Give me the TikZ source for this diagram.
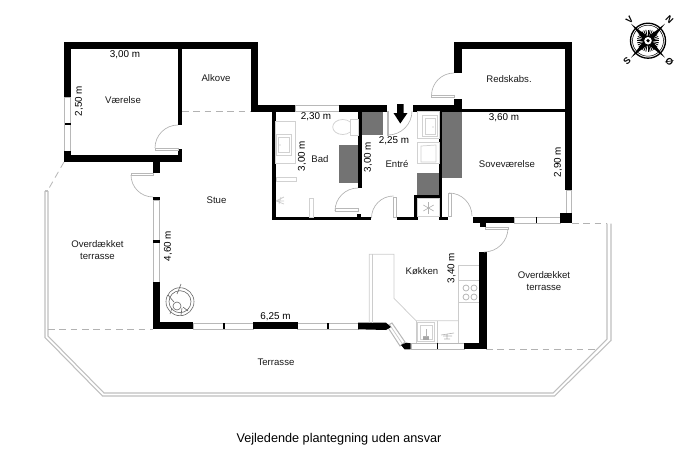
\documentclass[tikz,border=0pt]{standalone}
\usepackage{fontspec}
\setmainfont{Liberation Sans}
\tikzset{
  wall/.style={fill=black,draw=none},
  closet/.style={fill=black!55,draw=none},
  win/.style={draw=black!28,fill=white,line width=.75pt},
  thin/.style={draw=black!20,line width=.55pt},
  fix/.style={draw=black!18,line width=.55pt,fill=white},
  dashline/.style={draw=black!30,line width=.6pt,dash pattern=on 5pt off 3.5pt},
  door/.style={draw=black!30,line width=.5pt},
  leaf/.style={draw=black!28,fill=white,line width=.6pt},
  lbl/.style={font=\fontsize{7.2}{9.4}\selectfont,align=center,inner sep=0pt,text=black!90},
  dim/.style={font=\fontsize{7.4}{9}\selectfont,inner sep=0pt,text=black},
  terr/.style={draw=black!25,line width=.8pt,line join=miter},
  comp/.style={font=\bfseries\fontsize{7}{8}\selectfont,inner sep=0pt}
}
\begin{document}
\begin{tikzpicture}[x=.75pt,y=-.75pt]
\useasboundingbox (0,0) rectangle (687,457);
% terrace
\draw[terr] (45,191) -- (45,337.5) -- (102.5,396) -- (554.5,396) -- (611,340.5) -- (611,223.5);
\draw[terr] (48,191) -- (48,336) -- (104,393) -- (553,393) -- (607,339) -- (607,223.5);
\draw[terr] (45,191) -- (48,191);
\draw[dashline] (48,329) -- (153,329);
\draw[dashline] (486,349) -- (597,349);
\draw[dashline] (572,223.3) -- (607,223.3);
\draw[dashline] (64,162) -- (48,190);
\draw[dashline] (182,111) -- (251,111);
% closets
\fill[closet] (442.3,111) rectangle (461.7,178);
\fill[closet] (417.3,172.7) rectangle (439,195);
\fill[closet] (361.7,111) rectangle (383.3,135);
\fill[closet] (339,145) rectangle (358,183);
% windows
\draw[win] (64.5,97) rectangle (70.5,151);
\draw[win] (153,200) rectangle (159.5,282);
\draw[win] (193,323) rectangle (253,329);
\draw[win] (297.5,323) rectangle (358,329);
\draw[win] (295,105.5) rectangle (339,111.5);
\draw[win] (514,217) rectangle (560,223);
\draw[win] (566,190) rectangle (571.5,213);
\draw[win] (411,343) rectangle (464,349);
\draw[win] (387,326) -- (392,323) -- (405,342) -- (400,346) -- cycle;
\draw[thin] (389.5,324.5) -- (402.5,344);
% walls
\fill[wall] (64,42) rectangle (258,49.3);
\fill[wall] (64,42) rectangle (71,97);
\fill[wall] (64,151) rectangle (71,162);
\fill[wall] (64,154.7) rectangle (181.7,161.7);
\fill[wall] (178.3,49) rectangle (181.7,125);
\fill[wall] (178.3,148.5) rectangle (181.7,158);
\fill[wall] (152.7,161) rectangle (160,173);
\fill[wall] (153,197) rectangle (160,200);
\fill[wall] (64.5,122.5) rectangle (70.5,125);
\fill[wall] (153,239.5) rectangle (160,242.5);
\fill[wall] (251,42) rectangle (258,111.7);
\fill[wall] (251,105) rectangle (295,111.7);
\fill[wall] (339,105) rectangle (387,111.7);
\fill[wall] (413,105) rectangle (461.7,111.7);
\fill[wall] (461,108.7) rectangle (566,111.7);
\fill[wall] (454,42) rectangle (461.7,73);
\fill[wall] (454,42) rectangle (572.3,49.3);
\fill[wall] (454,99) rectangle (461.7,111);
\fill[wall] (565,42) rectangle (572.3,190);
\fill[wall] (560,212.7) rectangle (572.3,223.3);
\fill[wall] (535.8,217) rectangle (537.2,223);
\fill[wall] (473.3,216.7) rectangle (514,223.3);
\fill[wall] (480,220) rectangle (486,226.7);
\fill[wall] (272,111) rectangle (275.7,220);
\fill[wall] (272,216.7) rectangle (370.7,220);
\fill[wall] (358,111) rectangle (361.7,188);
\fill[wall] (357,214) rectangle (361,217);
\fill[wall] (396.7,216.7) rectangle (417.7,220);
\fill[wall] (414,195) rectangle (417.7,220);
\fill[wall] (414,195) rectangle (442.3,198);
\fill[wall] (439,111) rectangle (442.3,220);
\fill[wall] (439,216.7) rectangle (447.7,220);
\fill[wall] (479.3,252.3) rectangle (486.7,349.3);
\fill[wall] (464,342.7) rectangle (486.7,349.3);
\fill[wall] (436.7,343) rectangle (437.9,349);
\fill[wall] (401,345) -- (406,342.7) -- (410.7,343.3) -- (410.7,349.3) -- (404.5,349.3) -- cycle;
\fill[wall] (152.7,281.7) rectangle (160,329.3);
\fill[wall] (153,322.3) rectangle (193.3,329.3);
\fill[wall] (253,322.3) rectangle (297.7,329.3);
\fill[wall] (222.5,323) rectangle (224.5,329);
\fill[wall] (327,323) rectangle (329,329);
\fill[wall] (358,322.7) -- (386,322.7) -- (391,327) -- (386,330) -- (358,329.3) -- cycle;
% doors
\draw[door] (178,125) arc[start angle=270,end angle=180,radius=23];
\draw[leaf] (155,148) rectangle (178,150);
\draw[door] (131,175) arc[start angle=180,end angle=90,radius=22];
\draw[leaf] (131,173) rectangle (153,175);
\draw[door] (358,188) arc[start angle=270,end angle=180,radius=23];
\draw[leaf] (335,208.5) rectangle (358,211);
\draw[door] (371.5,218) arc[start angle=180,end angle=270,radius=22];
\draw[leaf] (393,197) rectangle (396,217);
\draw[door] (412,111) arc[start angle=0,end angle=90,radius=24];
\draw[leaf] (387,111.7) rectangle (388.5,135);
\draw[door] (449,193) arc[start angle=270,end angle=360,radius=23];
\draw[leaf] (448.7,193) rectangle (451,216.7);
\draw[door] (508,228) arc[start angle=0,end angle=90,radius=24];
\draw[leaf] (485,227) rectangle (508,229);
\draw[door] (454,73) arc[start angle=270,end angle=180,radius=22.5];
\draw[leaf] (431.5,95.5) rectangle (454,97.5);
% entry arrow
\fill[wall] (397,104) -- (403.5,104) -- (403.5,113) -- (407.5,113) -- (400.3,123.5) -- (393.5,113) -- (397,113) -- cycle;
% bath fixtures
\draw[fix] (275.7,121.7) rectangle (295,163);
\draw[fix] (276,134) rectangle (291.7,155);
\draw[fix] (278,137) rectangle (289,152);
\fill[black!30] (280,145) circle (.7);
\draw[fix] (342.7,127) ellipse (10 and 7.5);
\draw[fix] (350.7,119) rectangle (358,135);
\draw[fix] (276,177.7) rectangle (296,181.7);
\draw[fix] (309.3,198) rectangle (313.3,217);
\draw[thin] (276,201) -- (284,197) (276,201) -- (284,204) (276,201) -- (284,201);
\draw[thin] (281,197) -- (279,204);
% entry fixtures
\draw[fix] (417.7,111.7) rectangle (439,138);
\draw[fix] (422.7,115) rectangle (437.3,136.7);
\draw[fix] (425,118) rectangle (435,134);
\fill[black!30] (433,127) circle (.6);
\draw[fix] (417.7,142) rectangle (439,163);
\draw[fix] (421,146) -- (436,145) -- (436,162) -- (421,162) -- cycle;
\draw[fix] (417.7,198) rectangle (439,216.7);
\foreach \a in {0,60,...,300}{\draw[black!30,line width=.45pt] (428.5,208) -- ++(\a+30:6);}
% kitchen
\draw[thin] (369.3,322.7) -- (369.3,254.3) -- (394,254.3) -- (394,298.3) -- (416,320.7) -- (458.7,320.7);
\draw[thin] (372.7,322.7) -- (372.7,254.3);
\draw[thin] (416,320.7) -- (416,343);
\draw[thin] (437,320.7) -- (437,343);
\draw[thin] (458.7,343) -- (458.7,265.7) -- (479.3,265.7);
\draw[thin] (458.7,280.7) -- (479.3,280.7);
\draw[thin] (458.7,302.7) -- (479.3,302.7);
\draw[fix] (417.5,322.5) rectangle (434.5,341.5);
\draw[fix] (420,325.5) rectangle (432,339);
\draw[black!30,line width=.5pt] (426,329) -- (426,336) (423,336) -- (429,336);
\fill[black!35] (423,337) rectangle (429,340);
\draw[black!30,line width=.45pt] (441,335) -- (454,333) (443,336) -- (452,336) (447,334) -- (447,339) (444,339) -- (450,339);
\foreach \cx/\cy in {466/288,474/288,466/297,474/297}{\draw[black!30,line width=.55pt] (\cx,\cy) circle (3);}
% chair
\draw[black!60,line width=.45pt] (180,301.7) circle (14);
\draw[black!60,line width=.45pt] (180,301.7) circle (11);
\draw[black!60,line width=.45pt] (177,306) circle (4);
\draw[black!60,line width=.45pt] (177,294) -- (181,284);
\draw[black!60,line width=.45pt] (168,295) -- (174,302) (170,314) -- (172,308) (181,315) -- (182,308) (188,311) -- (183,307);
% compass
\draw[line width=1pt] (648,40.7) circle (17.5);
\draw[line width=.4pt] (648,40.7) circle (15.5);
\foreach \a in {0,11.25,...,348.75}{\draw[line width=.6pt] (648,40.7) -- ++(\a:11);}
\foreach \a in {45,135,225,315}{
  \begin{scope}[shift={(648,40.7)},rotate=\a]
    \fill (24,0) -- (0,3) -- (-1,0) -- (0,-3) -- cycle;
  \end{scope}
}
\fill[white] (648,40.7) circle (4.5);
\draw[line width=.8pt] (648,40.7) circle (4.5);
\fill (648,40.7) circle (1.8);
\node[comp,rotate=-45] (cN) at (669.5,20) {N};
\node[comp,rotate=45] (cV) at (629.5,20) {V};
\node[comp,rotate=45] (cS) at (627,61.5) {S};
\node[comp,rotate=-45] (cO) at (669.5,61.5) {Ø};
% room labels
\node[lbl] (vaer) at (123,100.5) {Værelse};
\node[lbl] (alk) at (216,78) {Alkove};
\node[lbl] (stue) at (216.5,200) {Stue};
\node[lbl] (bad) at (320,159.5) {Bad};
\node[lbl] (entre) at (397,164) {Entré};
\node[lbl] (redsk) at (509,79.5) {Redskabs.};
\node[lbl] (sove) at (507,164.5) {Soveværelse};
\node[lbl] (kok) at (422,271) {Køkken};
\node[lbl] (ot1) at (97.5,250) {Overdækket\\terrasse};
\node[lbl] (ot2) at (544,281) {Overdækket\\terrasse};
\node[lbl] (terr) at (276,362) {Terrasse};
% dimensions
\node[dim] (d1) at (125,55) {3,00 m};
\node[dim,rotate=90] (d2) at (79,101) {2,50 m};
\node[dim] (d3) at (316,117) {2,30 m};
\node[dim,rotate=90] (d4) at (302,156) {3,00 m};
\node[dim,rotate=90] (d5) at (368,157) {3,00 m};
\node[dim] (d6) at (394,141) {2,25 m};
\node[dim] (d7) at (504,117.5) {3,60 m};
\node[dim,rotate=90] (d8) at (558,162) {2,90 m};
\node[dim,rotate=90] (d9) at (168,246) {4,60 m};
\node[dim] (d10) at (275.5,316.5) {6,25 m};
\node[dim,rotate=90] (d11) at (451.5,268) {3,40 m};
\node[inner sep=0pt,font=\fontsize{9.5}{11}\selectfont] (title) at (339,439.5) {Vejledende plantegning uden ansvar};
\end{tikzpicture}
\end{document}
